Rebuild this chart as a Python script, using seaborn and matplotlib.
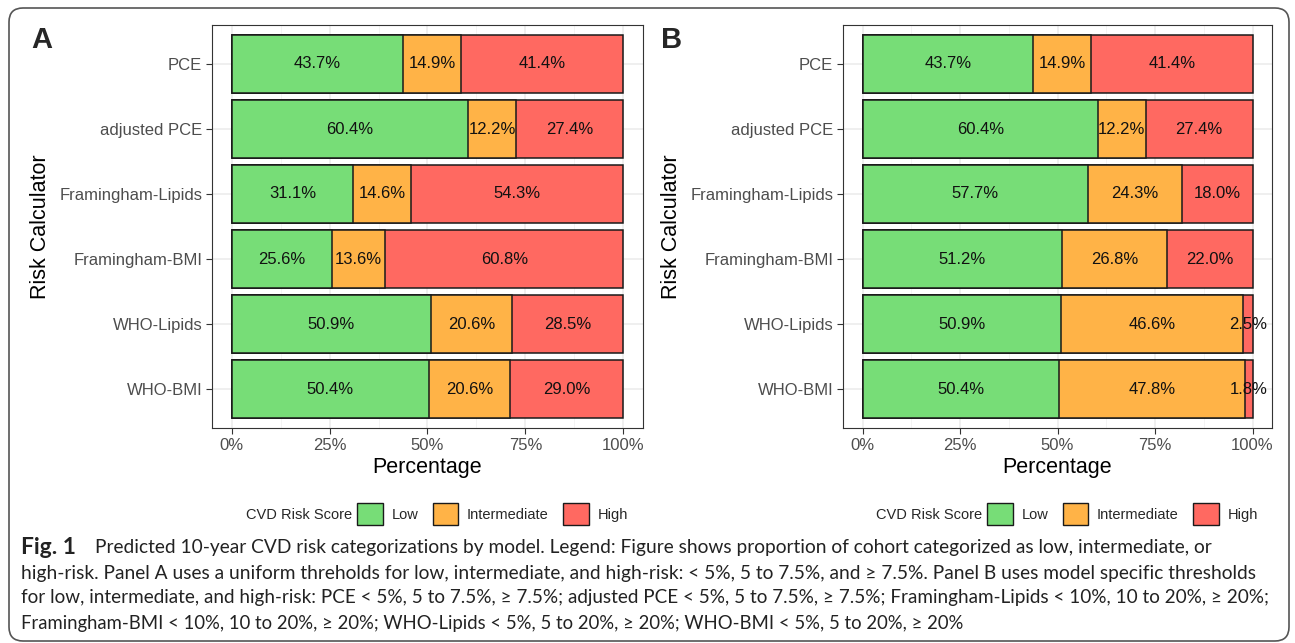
import numpy as np
import pandas as pd
import matplotlib
matplotlib.use('Agg')
import matplotlib.pyplot as plt
from matplotlib.patches import FancyBboxPatch, Patch
import seaborn as sns

sns.set_theme(style='white')
plt.rcParams['font.family'] = ['Liberation Sans', 'DejaVu Sans']

# data
calculators = ['PCE', 'adjusted PCE', 'Framingham-Lipids', 'Framingham-BMI', 'WHO-Lipids', 'WHO-BMI']
levels = ['Low', 'Intermediate', 'High']
colors = {'Low': '#77DD77', 'Intermediate': '#FFB347', 'High': '#FF6961'}

low_a = [43.7, 60.4, 31.1, 25.6, 50.9, 50.4]
mid_a = [14.9, 12.2, 14.6, 13.6, 20.6, 20.6]
high_a = [41.4, 27.4, 54.3, 60.8, 28.5, 29.0]

low_b = [43.7, 60.4, 57.7, 51.2, 50.9, 50.4]
mid_b = [14.9, 12.2, 24.3, 26.8, 46.6, 47.8]
high_b = [41.4, 27.4, 18.0, 22.0, 2.5, 1.8]

x_ticks = [0, 25, 50, 75, 100]
x_ticklabels = ['0%', '25%', '50%', '75%', '100%']

caption_lines = [
    'Predicted 10-year CVD risk categorizations by model. Legend: Figure shows proportion of cohort categorized as low, intermediate, or',
    'high-risk. Panel A uses a uniform threholds for low, intermediate, and high-risk: < 5%, 5 to 7.5%, and \u2265 7.5%. Panel B uses model specific thresholds',
    'for low, intermediate, and high-risk: PCE < 5%, 5 to 7.5%, \u2265 7.5%; adjusted PCE < 5%, 5 to 7.5%, \u2265 7.5%; Framingham-Lipids < 10%, 10 to 20%, \u2265 20%;',
    'Framingham-BMI < 10%, 10 to 20%, \u2265 20%; WHO-Lipids < 5%, 5 to 20%, \u2265 20%; WHO-BMI < 5%, 5 to 20%, \u2265 20%',
]


def make_df(low, mid, high):
    df = pd.DataFrame({'calc': calculators, 'Low': low, 'Intermediate': mid, 'High': high})
    df['cum_low'] = df['Low']
    df['cum_mid'] = df['Low'] + df['Intermediate']
    df['cum_high'] = df['cum_mid'] + df['High']
    return df


def draw_panel(ax, df):
    # layered bars: full stack first, then shorter ones on top
    for col, lev in [('cum_high', 'High'), ('cum_mid', 'Intermediate'), ('cum_low', 'Low')]:
        sns.barplot(data=df, x=col, y='calc', order=calculators, orient='h',
                    color=colors[lev], saturation=1, width=0.9,
                    edgecolor='#1a1a1a', linewidth=1.1, ax=ax, zorder=3)
    # centered labels
    for i, row in df.iterrows():
        starts = [0, row['cum_low'], row['cum_mid']]
        for s, lev in zip(starts, levels):
            ax.text(s + row[lev] / 2, i, f'{row[lev]:.1f}%', ha='center', va='center',
                    fontsize=12, color='#111111', zorder=5)

    ax.set_xlim(-5, 105)
    ax.set_ylim(len(calculators) - 0.4, -0.6)
    ax.set_xticks(x_ticks)
    ax.set_xticklabels(x_ticklabels)
    ax.set_xticks([12.5, 37.5, 62.5, 87.5], minor=True)
    ax.grid(True, which='major', color='#EBEBEB', linewidth=1.1, zorder=0)
    ax.grid(True, which='minor', axis='x', color='#F2F2F2', linewidth=0.6, zorder=0)
    ax.set_axisbelow(True)
    for sp in ax.spines.values():
        sp.set_color('#333333')
        sp.set_linewidth(0.8)
        sp.set_visible(True)
    ax.tick_params(axis='both', which='major', length=4, width=0.8, color='#333333',
                   labelsize=12, labelcolor='#4D4D4D', pad=3, bottom=True, left=True)
    ax.tick_params(axis='both', which='minor', length=0)
    ax.set_xlabel('Percentage', fontsize=15.5, color='black', labelpad=3)
    ax.set_ylabel('Risk Calculator', fontsize=15.5, color='black', labelpad=6)
    ax.set_facecolor('white')


fig = plt.figure(figsize=(12.95, 6.43), dpi=100)
W, H = 1295, 643

ax_a = fig.add_axes([212 / W, 1 - 428 / H, (643 - 212) / W, (428 - 25) / H])
ax_b = fig.add_axes([843 / W, 1 - 428 / H, (1272 - 843) / W, (428 - 25) / H])

draw_panel(ax_a, make_df(low_a, mid_a, high_a))
draw_panel(ax_b, make_df(low_b, mid_b, high_b))

fig.text(42 / W, 1 - 40 / H, 'A', fontsize=21, fontweight='bold', ha='center', va='center')
fig.text(672 / W, 1 - 40 / H, 'B', fontsize=21, fontweight='bold', ha='center', va='center')

# legends
handles = [Patch(facecolor=colors[l], edgecolor='#1a1a1a', linewidth=1.0) for l in levels]
for tx, lx in [(352, 357), (982, 987)]:
    fig.text(tx / W, 1 - 515 / H, 'CVD Risk Score', fontsize=10.5, ha='right', va='center')
    fig.legend(handles, levels, loc='center left', bbox_to_anchor=(lx / W, 1 - 514 / H),
               ncol=3, frameon=False, fontsize=10.5, handlelength=1.75, handleheight=1.9,
               handletextpad=0.6, columnspacing=1.0, borderpad=0, borderaxespad=0)

# outer rounded frame
box = FancyBboxPatch((0.09, 0.02), 12.8, 6.33, boxstyle='round,pad=0,rounding_size=0.14',
                     transform=fig.dpi_scale_trans, facecolor='none', edgecolor='#555555',
                     linewidth=1.2, zorder=0)
fig.patches.append(box)

# caption, each line sized to the width it has in the original
cap_font = ['Lato', 'DejaVu Sans']
ys = [548, 573, 598, 623]
starts = [95, 21, 21, 21]
ends = [1209, 1257, 1259, 959]
renderer = fig.canvas.get_renderer()
fig_lbl = fig.text(21 / W, 1 - ys[0] / H, 'Fig. 1', fontsize=13, fontweight='bold', family=cap_font,
                   ha='left', va='center', color='#222222')
fig_lbl.set_fontsize(13 * (76 - 21) / fig_lbl.get_window_extent(renderer).width)
for line, y, x0, x1 in zip(caption_lines, ys, starts, ends):
    t = fig.text(x0 / W, 1 - y / H, line, fontsize=13, family=cap_font, ha='left', va='center',
                 color='#222222')
    w = t.get_window_extent(renderer).width
    t.set_fontsize(13 * (x1 - x0) / w)

fig.savefig('out.png', dpi=100)
